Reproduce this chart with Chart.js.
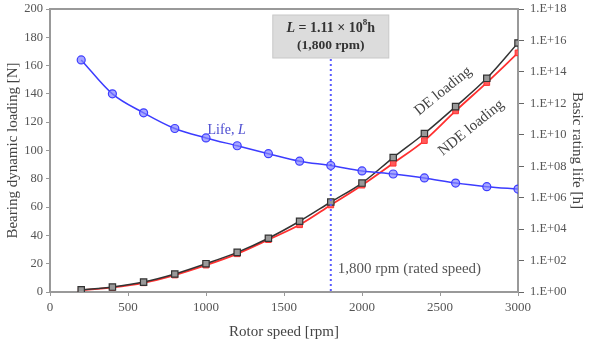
<!DOCTYPE html>
<html>
<head>
<meta charset="utf-8">
<script src="https://cdn.jsdelivr.net/npm/chart.js@4.4.1/dist/chart.umd.min.js"></script>
<style>
  html, body { margin: 0; padding: 0; background: #fff; }
  #wrap { width: 592px; height: 353px; }
</style>
</head>
<body>
<div id="wrap"><canvas id="myChart" width="592" height="353"></canvas></div>
<script>
// rotor speed [rpm]
var speed = [200, 400, 600, 800, 1000, 1200, 1400, 1600, 1800, 2000, 2200, 2400, 2600, 2800, 3000];
// bearing dynamic loading [N]
var deLoad = [1.5, 3.5, 7, 12.7, 20, 28, 38, 50, 63.6, 77, 95, 112, 131, 151, 176];
var ndeLoad = [1.2, 3.2, 6.5, 12, 19, 27, 37, 47.5, 61.5, 75.5, 91, 107, 128, 148, 169];
// basic rating life [h]
var life = [5.8e14, 4.0e12, 2.5e11, 2.5e10, 6.3e9, 2.0e9, 6.3e8, 2.1e8, 1.11e8, 5.0e7, 3.2e7, 1.8e7, 8.5e6, 5.0e6, 3.5e6];
// right axis tick exponents
var lifeExp = [0, 2, 4, 6, 8, 10, 12, 14, 16, 18];

var ratedSpeed = 1800;
var serif = "'Liberation Serif', 'DejaVu Serif', serif";

function pts(ys) {
	return speed.map(function(x, i) { return { x: x, y: ys[i] }; });
}

// draws the extra texts, box and the rated speed line
var notes = {
	id: "notes",
	afterDatasetsDraw: function(chart) {
		var c = chart.ctx, a = chart.chartArea;
		var sx = chart.scales.x, sy = chart.scales.y;
		var xr = sx.getPixelForValue(ratedSpeed);
		c.save();
		// top frame line
		c.strokeStyle = "#999";
		c.lineWidth = 2;
		c.beginPath();
		c.moveTo(a.left, a.top);
		c.lineTo(a.right, a.top);
		c.stroke();
		// rated speed dotted line
		c.strokeStyle = "#5a5aff";
		c.lineWidth = 2;
		c.setLineDash([2, 3]);
		c.beginPath();
		c.moveTo(xr, a.top + 50);
		c.lineTo(xr, a.bottom);
		c.stroke();
		c.setLineDash([]);
		// box
		var bx = xr - 58, by = a.top + 6, bw = 116, bh = 43;
		c.fillStyle = "#dcdcdc";
		c.strokeStyle = "#c8c8c8";
		c.lineWidth = 1;
		c.fillRect(bx, by, bw, bh);
		c.strokeRect(bx, by, bw, bh);
		c.fillStyle = "#333";
		c.textBaseline = "middle";
		var parts = [
			{ t: "L", f: "italic bold 14px " + serif, dy: 0 },
			{ t: " = 1.11 \u00d7 10", f: "bold 14px " + serif, dy: 0 },
			{ t: "8", f: "bold 9px " + serif, dy: -5 },
			{ t: "h", f: "bold 14px " + serif, dy: 0 }
		];
		var w = 0;
		parts.forEach(function(p) { c.font = p.f; w += c.measureText(p.t).width; });
		var px = xr - w / 2, ty = by + 13;
		c.textAlign = "left";
		parts.forEach(function(p) {
			c.font = p.f;
			c.fillText(p.t, px, ty + p.dy);
			px += c.measureText(p.t).width;
		});
		c.font = "bold 13.5px " + serif;
		c.textAlign = "center";
		c.fillText("(1,800 rpm)", xr, by + 31);
		// rated speed label
		c.font = "15px " + serif;
		c.fillStyle = "#555";
		c.textAlign = "left";
		c.fillText("1,800 rpm (rated speed)", xr + 7, sy.getPixelForValue(16));
		// Life label
		c.fillStyle = "#4a4ad0";
		c.font = "14px " + serif;
		c.textAlign = "left";
		var lx = sx.getPixelForValue(1010), ly = sy.getPixelForValue(114);
		c.fillText("Life, ", lx, ly);
		var lw = c.measureText("Life, ").width;
		c.font = "italic 14px " + serif;
		c.fillText("L", lx + lw, ly);
		// rotated loading labels
		c.fillStyle = "#444";
		c.font = "15px " + serif;
		c.textAlign = "center";
		c.save();
		c.translate(sx.getPixelForValue(2520), sy.getPixelForValue(142));
		c.rotate(-39 * Math.PI / 180);
		c.fillText("DE loading", 0, 0);
		c.restore();
		c.save();
		c.translate(sx.getPixelForValue(2700), sy.getPixelForValue(116));
		c.rotate(-39 * Math.PI / 180);
		c.fillText("NDE loading", 0, 0);
		c.restore();
		c.restore();
	}
};

var ctx = document.getElementById("myChart").getContext("2d");
var chart = new Chart(ctx, {
	type: "line",
	data: {
		datasets: [{
			label: "Life, L",
			data: pts(life),
			yAxisID: "y2",
			borderColor: "#3c3cff",
			backgroundColor: "rgba(130,130,255,0.7)",
			borderWidth: 1.5,
			pointStyle: "circle",
			pointRadius: 4,
			pointBorderWidth: 1.2,
			cubicInterpolationMode: "monotone"
		}, {
			label: "DE loading",
			data: pts(deLoad),
			yAxisID: "y",
			borderColor: "#333",
			backgroundColor: "#999",
			borderWidth: 1.5,
			pointStyle: "rect",
			pointRadius: 4.5,
			pointBorderWidth: 1.2,
			cubicInterpolationMode: "monotone"
		}, {
			label: "NDE loading",
			data: pts(ndeLoad),
			yAxisID: "y",
			borderColor: "#ff3030",
			backgroundColor: "#ff5a5a",
			borderWidth: 1.8,
			pointStyle: "rect",
			pointRadius: 4,
			pointBorderWidth: 1,
			cubicInterpolationMode: "monotone"
		}]
	},
	options: {
		responsive: false,
		animation: false,
		layout: { padding: { left: 4, right: 6, top: 9, bottom: 8 } },
		plugins: { legend: { display: false }, tooltip: { enabled: false } },
		scales: {
			x: {
				type: "linear",
				min: 0,
				max: 3000,
				afterFit: function(s) { s.height = 53; },
				ticks: {
					stepSize: 500,
					color: "#555",
					font: { family: serif, size: 13 },
					padding: 4,
					callback: function(v) { return String(v); }
				},
				grid: { drawOnChartArea: false, tickLength: 4, color: "#999" },
				border: { color: "#999", width: 2 },
				title: { display: true, text: "Rotor speed [rpm]", color: "#444", font: { family: serif, size: 15 }, padding: { top: 0 } }
			},
			y: {
				position: "left",
				min: 0,
				max: 200,
				afterFit: function(s) { s.width = 46; s.paddingTop = 0; s.paddingBottom = 0; },
				ticks: { stepSize: 20, color: "#555", font: { family: serif, size: 12.5 }, padding: 3 },
				grid: { drawOnChartArea: false, tickLength: 4, color: "#999" },
				border: { color: "#999", width: 2 },
				title: { display: true, text: "Bearing dynamic loading [N]", color: "#444", font: { family: serif, size: 15 }, padding: 0 }
			},
			y2: {
				type: "logarithmic",
				position: "right",
				min: 1,
				max: 1e18,
				afterFit: function(s) { s.width = 68; s.paddingTop = 0; s.paddingBottom = 0; },
				afterBuildTicks: function(s) {
					s.ticks = lifeExp.map(function(e) { return { value: Math.pow(10, e) }; });
				},
				ticks: {
					color: "#555",
					font: { family: serif, size: 12.5 },
					padding: 6,
					callback: function(v) {
						var e = Math.round(Math.log10(v));
						return "1.E+" + (e < 10 ? "0" + e : e);
					}
				},
				grid: { drawOnChartArea: false, tickLength: 6, color: "#666" },
				border: { color: "#999", width: 2 },
				title: { display: true, text: "Basic rating life [h]", color: "#444", font: { family: serif, size: 15 }, padding: 0 }
			}
		}
	},
	plugins: [notes]
});
</script>
</body>
</html>
